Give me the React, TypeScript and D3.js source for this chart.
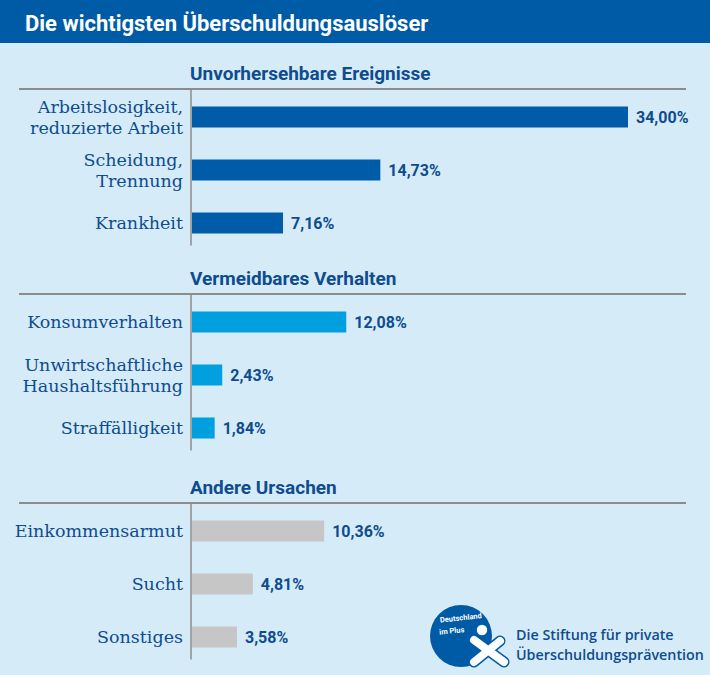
import React from "react";
import * as d3 from "d3";

const title = "Die wichtigsten Überschuldungsauslöser";
const sectionTitles = ["Unvorhersehbare Ereignisse", "Vermeidbares Verhalten", "Andere Ursachen"];

const categories1 = [["Arbeitslosigkeit,", "reduzierte Arbeit"], ["Scheidung,", "Trennung"], ["Krankheit"]];
const values1 = [34.0, 14.73, 7.16];
const categories2 = [["Konsumverhalten"], ["Unwirtschaftliche", "Haushaltsführung"], ["Straffälligkeit"]];
const values2 = [12.08, 2.43, 1.84];
const categories3 = [["Einkommensarmut"], ["Sucht"], ["Sonstiges"]];
const values3 = [10.36, 4.81, 3.58];
const logoLines = ["Die Stiftung für private", "Überschuldungsprävention"];
const logoBadge = ["Deutschland", "im Plus"];

const W = 710;
const H = 675;
const BG = "#d5ebf8";
const HEADER = "#005ba6";
const TEXT = "#0f4c8f";
const RULE = "#8c8c8c";
const barColors = ["#005ca9", "#009fdf", "#c6c6c6"];
const sectionRuleY = [89, 294, 503];

const x = d3.scaleLinear().domain([0, 34]).range([191, 628]);
const fmt = (v: number) => d3.format(".2f")(v).replace(".", ",") + "%";

const labelFont = "'DejaVu Serif', serif";
const sans = "'Roboto', sans-serif";

export default function App() {
  const sections = [
    { cats: categories1, vals: values1 },
    { cats: categories2, vals: values2 },
    { cats: categories3, vals: values3 },
  ];
  const barH = 21;
  return (
    <svg width={W} height={H} style={{ position: "absolute", left: 0, top: 0 }}>
      <rect x={0} y={0} width={W} height={H} fill={BG} />
      <rect x={0} y={0} width={W} height={43} fill={HEADER} />
      <text x={25} y={31} fill="#fff" fontFamily={sans} fontWeight="bold" fontSize={22}>
        {title}
      </text>
      {sections.map((s, si) => {
        const ry = sectionRuleY[si];
        const keys = s.cats.map((c) => c.join(" "));
        const y = d3.scalePoint<string>().domain(keys).range([ry + 28, ry + 134]);
        const lastBottom = (y(keys[keys.length - 1]) as number) + barH / 2;
        return (
          <g key={si}>
            <text x={190} y={ry - 9} fill={TEXT} fontFamily={sans} fontWeight="bold" fontSize={19}>
              {sectionTitles[si]}
            </text>
            <line x1={19} x2={686} y1={ry} y2={ry} stroke={RULE} strokeWidth={2} />
            <line x1={x(0)} x2={x(0)} y1={ry} y2={lastBottom + 12} stroke={RULE} strokeWidth={1.5} />
            {s.cats.map((c, i) => {
              const cy = y(keys[i]) as number;
              const v = s.vals[i];
              return (
                <g key={i}>
                  <rect x={x(0) + 1} y={cy - barH / 2} width={x(v) - x(0) - 1} height={barH} fill={barColors[si]} />
                  <text x={x(v) + 8} y={cy + 6} fill={TEXT} fontFamily={sans} fontWeight="bold" fontSize={16}>
                    {fmt(v)}
                  </text>
                  <text textAnchor="end" fill={TEXT} fontFamily={labelFont} fontSize={17.5}>
                    {c.map((line, li) => (
                      <tspan key={li} x={183} y={cy + 6 + (li - (c.length - 1) / 2) * 21}>
                        {line}
                      </tspan>
                    ))}
                  </text>
                </g>
              );
            })}
          </g>
        );
      })}
      <g>
        <circle cx={461} cy={636} r={31} fill={HEADER} />
        <text fill="#fff" fontFamily={sans} fontWeight="bold" fontSize={7.5} transform="rotate(-6 455 620)">
          <tspan x={440} y={621}>{logoBadge[0]}</tspan>
          <tspan x={438} y={633}>{logoBadge[1]}</tspan>
        </text>
        <path d="M474,640 L504,662 M474,662 L500,641" stroke={HEADER} strokeWidth={11} strokeLinecap="round" fill="none" />
        <path d="M474,640 L504,662 M474,662 L500,641" stroke="#fff" strokeWidth={8} strokeLinecap="round" fill="none" />
        <circle cx={482} cy={630} r={6} fill="#fff" stroke={HEADER} strokeWidth={1.5} />
        <text fill={TEXT} fontFamily="'Open Sans', sans-serif" fontWeight="600" fontSize={14.3}>
          <tspan x={516} y={640}>{logoLines[0]}</tspan>
          <tspan x={516} y={660}>{logoLines[1]}</tspan>
        </text>
      </g>
    </svg>
  );
}
